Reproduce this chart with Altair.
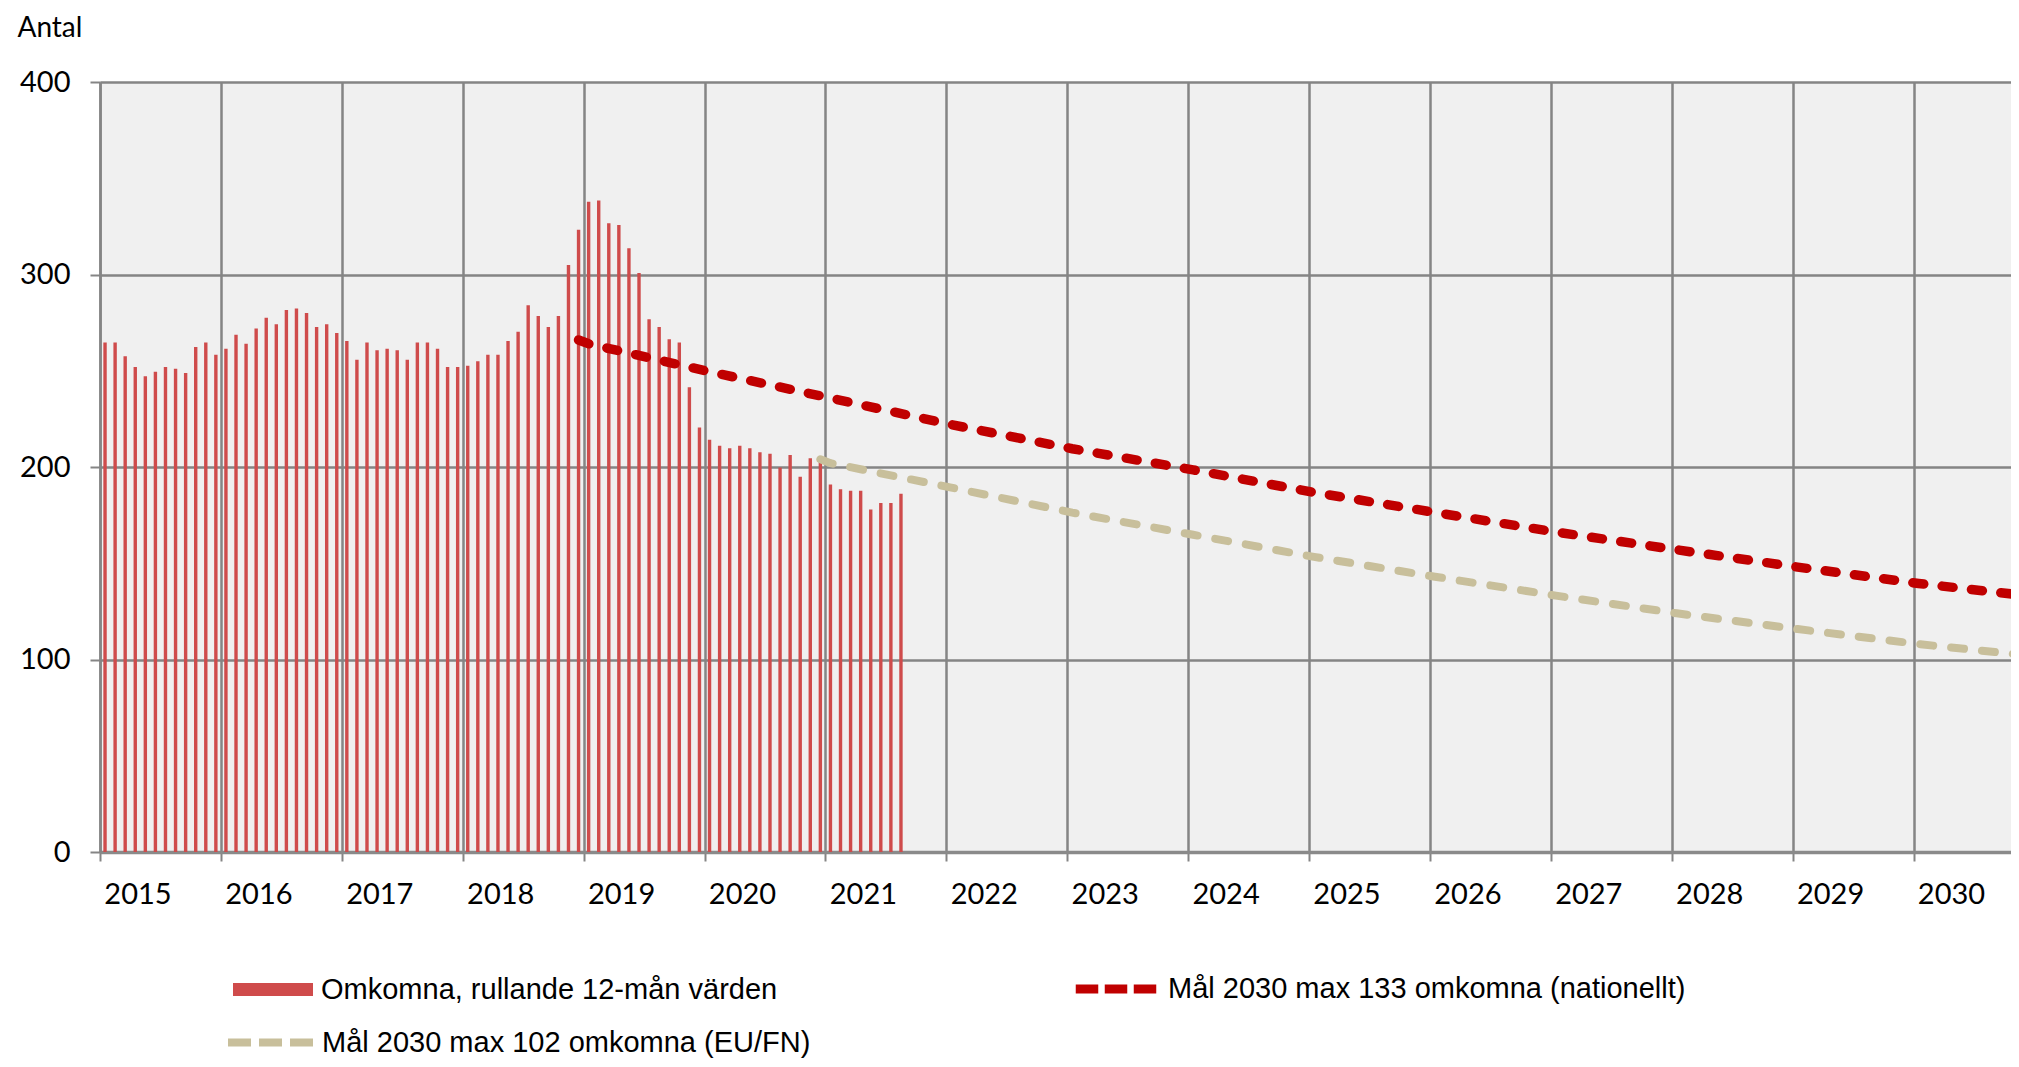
import altair as alt
import pandas as pd

# ---------------- data ----------------
START_YEAR = 2015
# rolling 12-month fatalities, monthly from Jan 2015 to Aug 2021
bar_values = [
    264.7, 264.7, 257.5, 251.9, 247.1, 249.5, 251.9, 251.0, 248.8, 262.3, 264.7, 258.3,   # 2015
    261.4, 268.7, 264.0, 272.0, 277.5, 274.2, 281.5, 282.4, 280.0, 272.7, 274.2, 269.6,   # 2016
    265.4, 255.7, 264.7, 260.6, 261.4, 260.6, 255.7, 264.7, 264.7, 261.4, 251.9, 251.9,   # 2017
    252.6, 255.0, 258.3, 258.3, 265.4, 270.3, 284.0, 278.4, 272.7, 278.4, 304.9, 323.3,   # 2018
    337.8, 338.5, 326.6, 325.7, 313.6, 300.8, 276.7, 272.7, 266.3, 264.7, 241.4, 220.5,   # 2019
    214.1, 211.0, 209.8, 211.0, 209.8, 207.7, 206.9, 199.7, 206.2, 194.9, 204.5, 203.0,   # 2020
    190.9, 188.5, 187.6, 187.6, 177.9, 181.3, 181.3, 186.1,                               # 2021
]

red_months = ["2018-12", "2019-01", "2020-01", "2021-01", "2022-01", "2023-01", "2024-01",
              "2025-01", "2026-01", "2027-01", "2028-01", "2029-01", "2030-01", "2030-12"]
red_values = [266.0, 264.0, 249.5, 235.8, 222.0, 209.5, 198.5,
              186.8, 176.4, 166.2, 157.0, 148.0, 139.5, 133.0]

beige_months = ["2020-12", "2021-01", "2022-01", "2023-01", "2024-01", "2025-01",
                "2026-01", "2027-01", "2028-01", "2029-01", "2030-01", "2030-12"]
beige_values = [204.0, 202.0, 189.3, 176.3, 164.8, 153.3,
                143.0, 133.2, 124.0, 115.8, 108.0, 102.0]

year_ticks = list(range(2015, 2031))
y_ticks = [0, 100, 200, 300, 400]

BAR_LABEL = "Omkomna, rullande 12-mån värden"
RED_LABEL = "Mål 2030 max 133 omkomna (nationellt)"
BEIGE_LABEL = "Mål 2030 max 102 omkomna (EU/FN)"

BAR_COLOR = "#cf4b4b"
RED_COLOR = "#c00000"
BEIGE_COLOR = "#c8bf9b"
GRID_COLOR = "#858585"

# ---------------- layout ----------------
PLOT_W = 1911
PLOT_H = 770
PX_PER_YEAR = 120.9
X_END = START_YEAR + PLOT_W / PX_PER_YEAR


def month_pos(s):
    y, m = s.split("-")
    return int(y) + (int(m) - 0.5) / 12


df_bars = pd.DataFrame({
    "t": [START_YEAR + (i + 0.5) / 12 for i in range(len(bar_values))],
    "v": bar_values,
    "serie": BAR_LABEL,
})
df_red = pd.DataFrame({"t": [month_pos(m) for m in red_months], "v": red_values, "serie2": RED_LABEL})
df_beige = pd.DataFrame({"t": [month_pos(m) for m in beige_months], "v": beige_values, "serie3": BEIGE_LABEL})

AX_FONT = "Lato"
AX_SIZE = 29

x_enc = alt.X(
    "t:Q",
    scale=alt.Scale(domain=[START_YEAR, X_END], nice=False, zero=False, padding=0),
    axis=alt.Axis(
        values=year_ticks, format="d", title=None,
        grid=True, gridColor=GRID_COLOR, gridWidth=2.5, gridOpacity=1,
        ticks=True, tickSize=9, tickColor=GRID_COLOR, tickWidth=2,
        domain=True, domainColor="#8a8a8a", domainWidth=3.5,
        labelFont=AX_FONT, labelFontSize=AX_SIZE, labelColor="#000000",
        labelOffset=37.5, labelPadding=33.5, labelBaseline="middle", labelAlign="center",
        labelOverlap=False, labelFlush=False,
    ),
)

y_enc = alt.Y(
    "v:Q",
    scale=alt.Scale(domain=[0, 400], nice=False, padding=0),
    axis=alt.Axis(
        values=y_ticks, format="d",
        title="Antal", titleAngle=0, titleX=-83, titleY=-46, titleAlign="left",
        titleBaseline="alphabetic", titleFont=AX_FONT, titleFontSize=28,
        titleFontWeight="normal", titleColor="#000000",
        grid=True, gridColor=GRID_COLOR, gridWidth=2.5, gridOpacity=1,
        ticks=True, tickSize=10, tickColor=GRID_COLOR, tickWidth=2,
        domain=True, domainColor=GRID_COLOR, domainWidth=2.5,
        labelFont=AX_FONT, labelFontSize=AX_SIZE, labelColor="#000000", labelPadding=20,
    ),
)

LEG_FONT = "Liberation Sans"
LEG_SIZE = 29

bars = alt.Chart(df_bars).mark_bar(size=3.4, clip=True).encode(
    x=x_enc,
    y=y_enc,
    fill=alt.Fill(
        "serie:N",
        scale=alt.Scale(domain=[BAR_LABEL], range=[BAR_COLOR]),
        legend=alt.Legend(
            title=None, orient="none", legendX=133, legendY=867.5,
            symbolType="M-1,-0.165H1V0.165H-1Z", symbolSize=6400, symbolStrokeWidth=0,
            symbolOpacity=1, labelFont=LEG_FONT, labelFontSize=LEG_SIZE, labelColor="#000000",
            labelOffset=8, labelLimit=0, padding=0,
        ),
    ),
)

red = alt.Chart(df_red).mark_line(
    strokeWidth=9.5, strokeDash=[11, 18.5], strokeCap="round", clip=True
).encode(
    x=x_enc,
    y=y_enc,
    stroke=alt.Stroke(
        "serie2:N",
        scale=alt.Scale(domain=[RED_LABEL], range=[RED_COLOR]),
        legend=alt.Legend(
            title=None, orient="none", legendX=971, legendY=862,
            symbolType="stroke", symbolSize=6480, symbolStrokeWidth=9, symbolDash=[22.5, 6.5],
            labelFont=LEG_FONT, labelFontSize=LEG_SIZE, labelColor="#000000",
            labelOffset=7, labelLimit=0, padding=0,
        ),
    ),
)

beige = alt.Chart(df_beige).mark_line(
    strokeWidth=8, strokeDash=[13, 18], strokeCap="round", clip=True
).encode(
    x=x_enc,
    y=y_enc,
    color=alt.Color(
        "serie3:N",
        scale=alt.Scale(domain=[BEIGE_LABEL], range=[BEIGE_COLOR]),
        legend=alt.Legend(
            title=None, orient="none", legendX=124, legendY=914,
            symbolType="stroke", symbolSize=7225, symbolStrokeWidth=8, symbolDash=[23, 8],
            labelFont=LEG_FONT, labelFontSize=LEG_SIZE, labelColor="#000000",
            labelOffset=5, labelLimit=0, padding=0,
        ),
    ),
)

chart = alt.layer(bars, red, beige).resolve_scale(
    fill="independent", stroke="independent", color="independent"
).properties(
    width=PLOT_W,
    height=PLOT_H,
    autosize=alt.AutoSizeParams(type="none"),
    padding={"left": 92, "top": 74, "right": 0, "bottom": 207},
    background="#ffffff",
).configure_view(
    fill="#f0f0f0", stroke=None, strokeWidth=0
)

chart.save("out.html", embed_options={"renderer": "svg", "actions": False})
